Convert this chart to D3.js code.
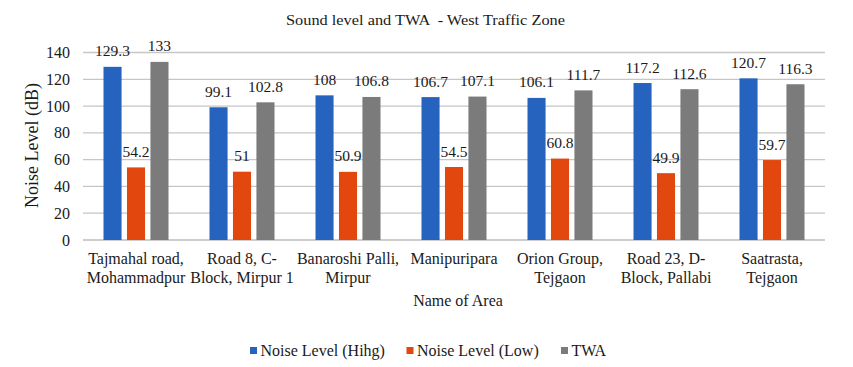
<!DOCTYPE html>
<html><head><meta charset="utf-8">
<script src="https://cdn.jsdelivr.net/npm/d3@7"></script>
<style>body{margin:0;background:#fff;} text{font-family:"Liberation Serif","DejaVu Serif",serif;}</style>
</head><body>
<script>
const categories = [["Tajmahal road,","Mohammadpur"],["Road 8, C-","Block, Mirpur 1"],["Banaroshi Palli,","Mirpur"],["Manipuripara"],["Orion Group,","Tejgaon"],["Road 23, D-","Block, Pallabi"],["Saatrasta,","Tejgaon"]];
const seriesNames = ["Noise Level (Hihg)","Noise Level (Low)","TWA"];
const high = [129.3, 99.1, 108, 106.7, 106.1, 117.2, 120.7];
const low = [54.2, 51, 50.9, 54.5, 60.8, 49.9, 59.7];
const twa = [133, 102.8, 106.8, 107.1, 111.7, 112.6, 116.3];
const yTicks = [0,20,40,60,80,100,120,140];
const colors = ["#2563BE","#E2470E","#7B7B7B"];

const W=853,H=367;
const FF='"Liberation Serif","DejaVu Serif",serif';
const svg=d3.select("body").append("svg").attr("width",W).attr("height",H).attr("font-family",FF);
const x0=d3.scaleBand().domain(d3.range(categories.length)).range([83,825]);
const y=d3.scaleLinear().domain([0,140]).range([240,52.5]);
const x1=d3.scaleBand().domain([0,1,2]).range([20.5,x0.bandwidth()-20.5]).paddingInner(0.23);
const TXT="#1a1a1a";

svg.append("text").attr("x",425.5).attr("y",25).attr("text-anchor","middle").attr("font-size",14.5)
  .attr("xml:space","preserve").attr("textLength",279).attr("lengthAdjust","spacingAndGlyphs")
  .attr("fill",TXT).text("Sound level and TWA  - West Traffic Zone");

const g=svg.append("g");
g.selectAll("line.grid").data(yTicks).join("line").attr("x1",83).attr("x2",825)
 .attr("y1",d=>y(d)).attr("y2",d=>y(d)).attr("stroke",d=>d===0?"#bcbcbc":"#c6c6c6").attr("stroke-width",d=>d===0?1.6:1.3);
g.selectAll("text.yt").data(yTicks).join("text").attr("x",70).attr("y",d=>y(d)).attr("dy","0.35em")
 .attr("text-anchor","end").attr("font-size",16).attr("fill",TXT).text(d=>d);

const data=[high,low,twa];
data.forEach((s,si)=>{
  const gs=svg.append("g");
  gs.selectAll("rect").data(s).join("rect").attr("x",(d,i)=>x0(i)+x1(si)).attr("width",x1.bandwidth())
   .attr("y",d=>y(d)).attr("height",d=>y(0)-y(d)).attr("fill",colors[si]);
  gs.selectAll("text").data(s).join("text").attr("x",(d,i)=>x0(i)+x1(si)+x1.bandwidth()/2).attr("y",d=>y(d)-10.5)
   .attr("text-anchor","middle").attr("font-size",15.5).attr("fill",TXT).text(d=>d);
});

categories.forEach((lines,i)=>{
  const cx=x0(i)+x0.bandwidth()/2;
  const t=svg.append("text").attr("x",cx).attr("y",264).attr("text-anchor","middle").attr("font-size",16).attr("fill",TXT);
  lines.forEach((l,j)=>t.append("tspan").attr("x",cx).attr("dy",j===0?0:18.5).text(l));
});

svg.append("text").attr("x",458).attr("y",305.5).attr("text-anchor","middle").attr("font-size",16).attr("fill",TXT).text("Name of Area");
svg.append("text").attr("transform","translate(37.5,145.5) rotate(-90)").attr("text-anchor","middle").attr("font-size",18).attr("fill",TXT).text("Noise Level (dB)");

const legX=[250,406.5,561];
seriesNames.forEach((n,i)=>{
  svg.append("rect").attr("x",legX[i]).attr("y",347).attr("width",7).attr("height",7).attr("fill",colors[i]);
  svg.append("text").attr("x",legX[i]+10.5).attr("y",355.5).attr("font-size",16).attr("fill",TXT).text(n);
});
</script>
</body></html>
